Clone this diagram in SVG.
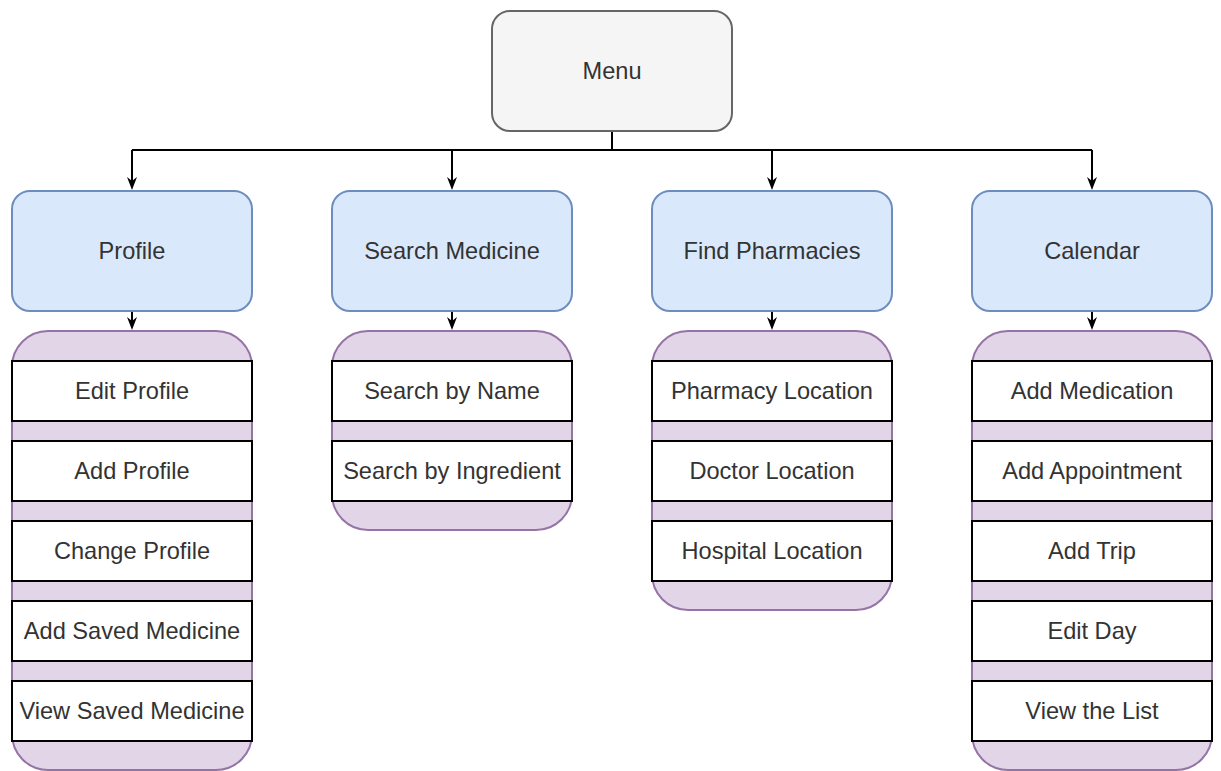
<svg xmlns="http://www.w3.org/2000/svg" width="1221" height="771" viewBox="0 0 1221 771">
  <defs>
    <marker id="arrow" viewBox="0 0 13 10" refX="8" refY="5" markerWidth="13" markerHeight="10" markerUnits="userSpaceOnUse" orient="auto">
      <path d="M0,0 L13,5 L0,10 L4,5 Z" fill="#000000"/>
    </marker>
    <style>
      .menu { fill: #f5f5f5; stroke: #666666; stroke-width: 2; }
      .section { fill: #dae8fc; stroke: #6c8ebf; stroke-width: 2; }
      .group { fill: #e1d5e7; stroke: #9673a6; stroke-width: 2; }
      .item { fill: #ffffff; stroke: #000000; stroke-width: 2; }
      .label { font-family: "Liberation Sans", Arial, Helvetica, sans-serif; font-size: 23.6px; fill: #333333; text-anchor: middle; }
      .edge { fill: none; stroke: #000000; stroke-width: 2; }
    </style>
  </defs>

  <!-- connectors -->
  <g id="connectors">
    <path class="edge" d="M612,131 V150 H132 M612,150 H1092"/>
    <path class="edge" d="M132,150 V185" marker-end="url(#arrow)"/>
    <path class="edge" d="M452,150 V185" marker-end="url(#arrow)"/>
    <path class="edge" d="M772,150 V185" marker-end="url(#arrow)"/>
    <path class="edge" d="M1092,150 V185" marker-end="url(#arrow)"/>
    <path class="edge" d="M132,311 V325" marker-end="url(#arrow)"/>
    <path class="edge" d="M452,311 V325" marker-end="url(#arrow)"/>
    <path class="edge" d="M772,311 V325" marker-end="url(#arrow)"/>
    <path class="edge" d="M1092,311 V325" marker-end="url(#arrow)"/>
  </g>

  <!-- root -->
  <g id="menu">
    <rect class="menu" x="492" y="11" width="240" height="120" rx="18"/>
    <text class="label" x="612" y="79">Menu</text>
  </g>

  <!-- sections -->
  <g id="profile">
    <rect class="section" x="12" y="191" width="240" height="120" rx="18"/>
    <text class="label" x="132" y="259">Profile</text>
  </g>
  <g id="search-medicine">
    <rect class="section" x="332" y="191" width="240" height="120" rx="18"/>
    <text class="label" x="452" y="259">Search Medicine</text>
  </g>
  <g id="find-pharmacies">
    <rect class="section" x="652" y="191" width="240" height="120" rx="18"/>
    <text class="label" x="772" y="259">Find Pharmacies</text>
  </g>
  <g id="calendar">
    <rect class="section" x="972" y="191" width="240" height="120" rx="18"/>
    <text class="label" x="1092" y="259">Calendar</text>
  </g>

  <!-- profile options -->
  <g id="profile-options">
    <rect class="group" x="12" y="331" width="240" height="439" rx="36"/>
    <g id="edit-profile">
      <rect class="item" x="12" y="361" width="240" height="60"/>
      <text class="label" x="132" y="399">Edit Profile</text>
    </g>
    <g id="add-profile">
      <rect class="item" x="12" y="441" width="240" height="60"/>
      <text class="label" x="132" y="479">Add Profile</text>
    </g>
    <g id="change-profile">
      <rect class="item" x="12" y="521" width="240" height="60"/>
      <text class="label" x="132" y="559">Change Profile</text>
    </g>
    <g id="add-saved-medicine">
      <rect class="item" x="12" y="601" width="240" height="60"/>
      <text class="label" x="132" y="639">Add Saved Medicine</text>
    </g>
    <g id="view-saved-medicine">
      <rect class="item" x="12" y="681" width="240" height="60"/>
      <text class="label" x="132" y="719">View Saved Medicine</text>
    </g>
  </g>

  <!-- search options -->
  <g id="search-options">
    <rect class="group" x="332" y="331" width="240" height="199" rx="36"/>
    <g id="search-by-name">
      <rect class="item" x="332" y="361" width="240" height="60"/>
      <text class="label" x="452" y="399">Search by Name</text>
    </g>
    <g id="search-by-ingredient">
      <rect class="item" x="332" y="441" width="240" height="60"/>
      <text class="label" x="452" y="479">Search by Ingredient</text>
    </g>
  </g>

  <!-- location options -->
  <g id="location-options">
    <rect class="group" x="652" y="331" width="240" height="279" rx="36"/>
    <g id="pharmacy-location">
      <rect class="item" x="652" y="361" width="240" height="60"/>
      <text class="label" x="772" y="399">Pharmacy Location</text>
    </g>
    <g id="doctor-location">
      <rect class="item" x="652" y="441" width="240" height="60"/>
      <text class="label" x="772" y="479">Doctor Location</text>
    </g>
    <g id="hospital-location">
      <rect class="item" x="652" y="521" width="240" height="60"/>
      <text class="label" x="772" y="559">Hospital Location</text>
    </g>
  </g>

  <!-- calendar options -->
  <g id="calendar-options">
    <rect class="group" x="972" y="331" width="240" height="439" rx="36"/>
    <g id="add-medication">
      <rect class="item" x="972" y="361" width="240" height="60"/>
      <text class="label" x="1092" y="399">Add Medication</text>
    </g>
    <g id="add-appointment">
      <rect class="item" x="972" y="441" width="240" height="60"/>
      <text class="label" x="1092" y="479">Add Appointment</text>
    </g>
    <g id="add-trip">
      <rect class="item" x="972" y="521" width="240" height="60"/>
      <text class="label" x="1092" y="559">Add Trip</text>
    </g>
    <g id="edit-day">
      <rect class="item" x="972" y="601" width="240" height="60"/>
      <text class="label" x="1092" y="639">Edit Day</text>
    </g>
    <g id="view-the-list">
      <rect class="item" x="972" y="681" width="240" height="60"/>
      <text class="label" x="1092" y="719">View the List</text>
    </g>
  </g>
</svg>
